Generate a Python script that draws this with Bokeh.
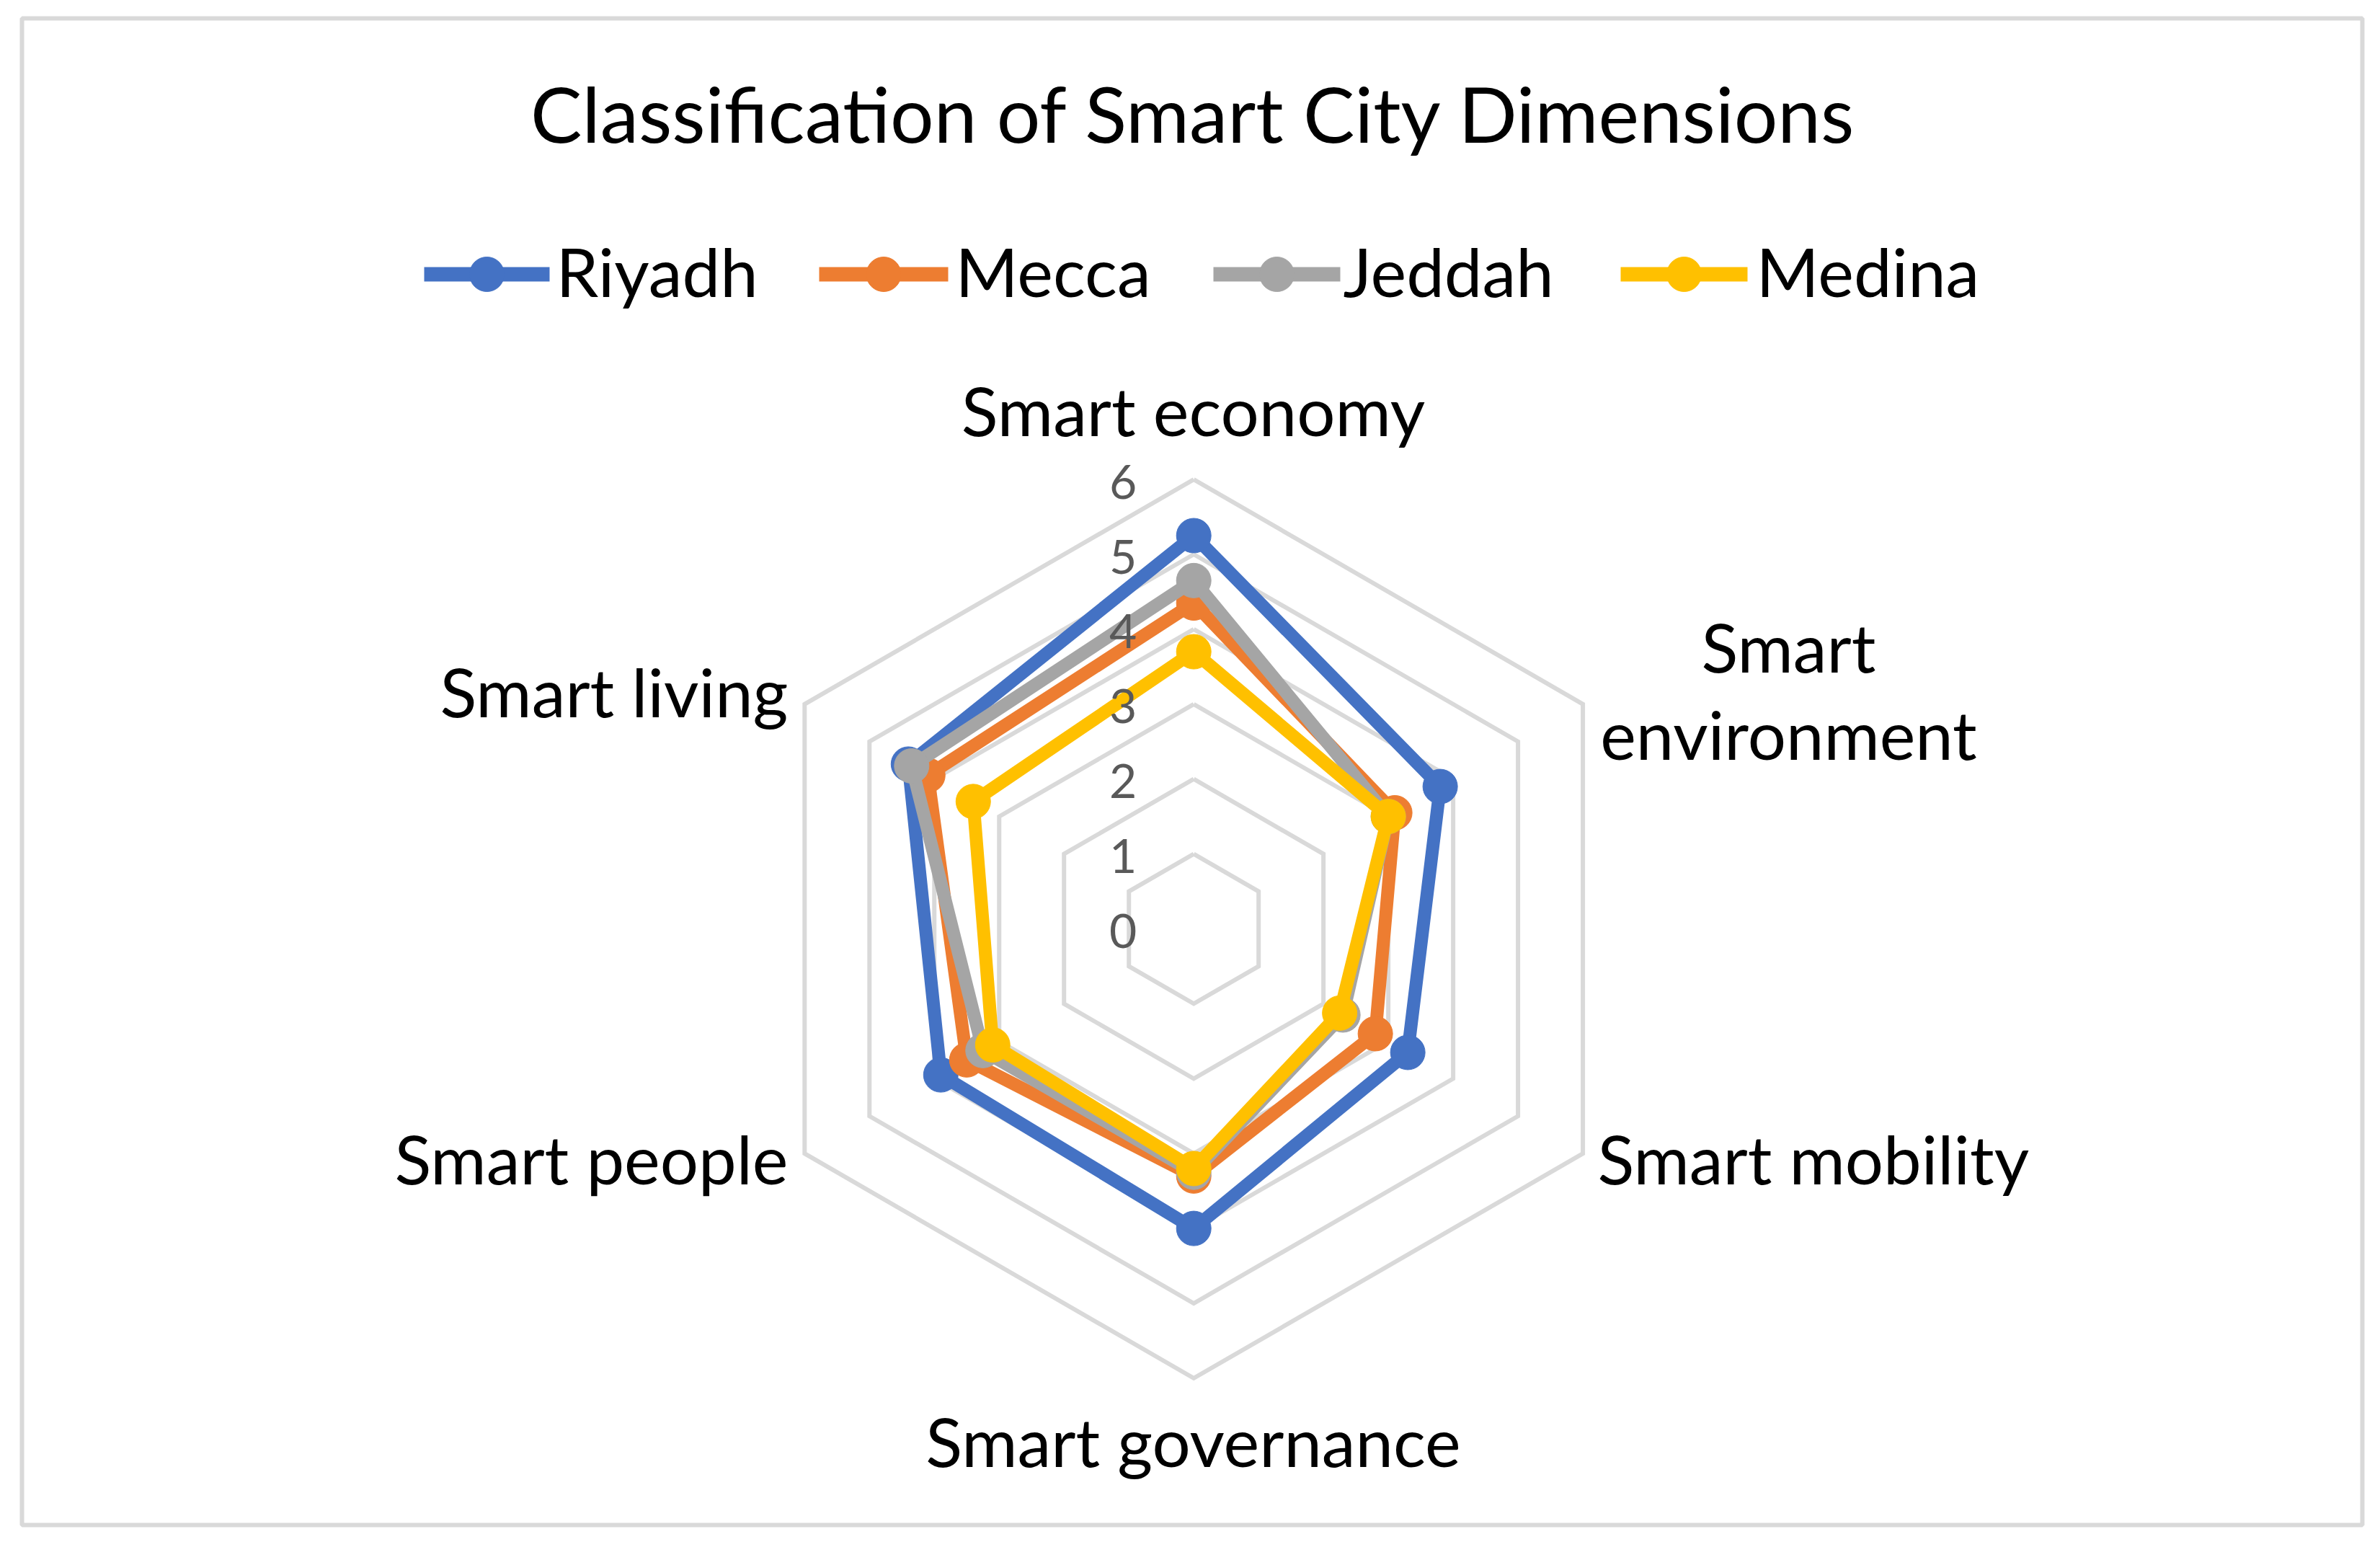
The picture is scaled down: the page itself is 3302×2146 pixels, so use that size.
import numpy as np
from bokeh.plotting import figure
from bokeh.models import Range1d
from bokeh.core.properties import value
from bokeh.embed import file_html
from bokeh.resources import INLINE

# ---------------- data ----------------
title_text = "Classification of Smart City Dimensions"
categories = ["Smart economy", "Smart environment", "Smart mobility",
              "Smart governance", "Smart people", "Smart living"]
series_names = ["Riyadh", "Mecca", "Jeddah", "Medina"]
riyadh = [5.25, 3.8, 3.3, 4.0, 3.9, 4.4]
mecca = [4.35, 3.1, 2.8, 3.3, 3.5, 4.1]
jeddah = [4.65, 3.0, 2.3, 3.25, 3.25, 4.35]
medina = [3.7, 3.0, 2.25, 3.2, 3.1, 3.4]
tick_values = [0, 1, 2, 3, 4, 5, 6]
tick_labels = ["0", "1", "2", "3", "4", "5", "6"]

# ---------------- style / layout ----------------
colors = ["#4472C4", "#ED7D31", "#A5A5A5", "#FFC000"]
FONT = value("Lato")
W, H = 3290, 2130
CX, CY = 1655.7, 1288.0      # radar centre in canvas pixels
S = 103.9                    # pixels per value unit

def fx(px):
    return (px - CX) / S

def fy(py):
    return (CY - py) / S

p = figure(width=W, height=H, output_backend="svg", toolbar_location=None,
           x_axis_type=None, y_axis_type=None, min_border=0,
           x_range=Range1d(fx(0), fx(W)), y_range=Range1d(fy(H), fy(0)),
           outline_line_color=None, background_fill_color="white",
           border_fill_color="white")
p.grid.visible = False

n = len(categories)
theta = np.arange(n) * 2 * np.pi / n
sx, sy = np.sin(theta), np.cos(theta)

# outer chart border
p.quad(left=[fx(30)], right=[fx(3277)], top=[fy(25)], bottom=[fy(2115)],
       fill_color=None, line_color="#D9D9D9", line_width=6)

# grid rings
for r in tick_values[1:]:
    p.line(list(r * sx) + [r * sx[0]], list(r * sy) + [r * sy[0]],
           line_color="#D9D9D9", line_width=6, line_join="miter")

# series
for name, vals, col in zip(series_names, [riyadh, mecca, jeddah, medina], colors):
    v = np.array(vals)
    xs = list(v * sx) + [v[0] * sx[0]]
    ys = list(v * sy) + [v[0] * sy[0]]
    p.line(xs, ys, line_color=col, line_width=18, line_join="round")
    p.scatter(v * sx, v * sy, size=48, fill_color=col, line_color=col)

# tick labels (right-aligned just left of the vertical axis)
p.text(x=[fx(CX - 79)] * len(tick_values), y=[t - 3 / S for t in tick_values],
       text=tick_labels, text_font=FONT, text_font_size="66px",
       text_color="#595959", text_align="right", text_baseline="alphabetic")

# category labels
LAB_FS = "94px"
lab_x = [1655, 2481, 2216, 1655, 1093, 1093]
lab_y = [568, 896, 1606, 1998, 1606, 958]
lab_align = ["center", "center", "left", "center", "right", "right"]
lab_text = ["Smart economy", "Smart", "Smart mobility", "Smart governance",
            "Smart people", "Smart living"]
for t, x, y, a in zip(lab_text, lab_x, lab_y, lab_align):
    p.text(x=[fx(x)], y=[fy(y)], text=[t], text_font=FONT, text_font_size=LAB_FS,
           text_color="black", text_align=a, text_baseline="alphabetic")
p.text(x=[fx(2481)], y=[fy(1017)], text=["environment"], text_font=FONT,
       text_font_size=LAB_FS, text_color="black", text_align="center",
       text_baseline="alphabetic")

# title
p.text(x=[fx(1656)], y=[fy(156)], text=[title_text], text_font=FONT,
       text_font_size="107px", text_color="black", text_align="center",
       text_baseline="alphabetic")

# legend
leg_line_x0 = [588, 1136, 1683, 2248]
leg_line_x1 = [762, 1315, 1859, 2424]
leg_text_x = [771, 1325, 1863, 2436]
leg_y = 380
for i, (name, col) in enumerate(zip(series_names, colors)):
    p.line([fx(leg_line_x0[i]), fx(leg_line_x1[i])], [fy(leg_y), fy(leg_y)],
           line_color=col, line_width=20)
    p.scatter([fx((leg_line_x0[i] + leg_line_x1[i]) / 2)], [fy(leg_y)], size=48,
              fill_color=col, line_color=col)
    p.text(x=[fx(leg_text_x[i])], y=[fy(375)], text=[name], text_font=FONT,
           text_font_size=LAB_FS, text_color="black", text_align="left",
           text_baseline="alphabetic")

open("out.html", "w").write(file_html(p, INLINE))
